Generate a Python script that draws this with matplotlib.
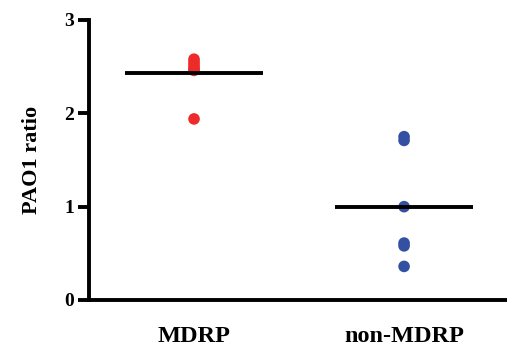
import matplotlib
matplotlib.use("Agg")
import matplotlib.pyplot as plt
import numpy as np

categories = ["MDRP", "non-MDRP"]
mdrp_values = [2.58, 2.55, 2.52, 2.49, 2.47, 2.46, 1.94]
non_mdrp_values = [1.75, 1.71, 1.0, 0.61, 0.58, 0.36]
y_ticks = [0, 1, 2, 3]
colors = ["#ee2b2b", "#3350a3"]

W, H = 507, 347
fig = plt.figure(figsize=(W / 100, H / 100), dpi=100)
ax = fig.add_axes([89 / W, (H - 300) / H, (W - 89) / W, 280 / H])

serif = ["Liberation Serif", "DejaVu Serif"]
series = [mdrp_values, non_mdrp_values]
for i, (vals, c) in enumerate(zip(series, colors)):
    x = i + 1
    ax.scatter([x] * len(vals), vals, s=70, color=c, zorder=3, edgecolors="none")
    m = np.mean(vals)
    ax.plot([x - 0.33, x + 0.33], [m, m], color="black", lw=2.8, zorder=4,
            solid_capstyle="butt")

ax.set_xlim(0.5, 2.49)
ax.set_ylim(0, 3)
ax.set_yticks(y_ticks)
ax.set_yticklabels([str(t) for t in y_ticks], fontfamily=serif,
                   fontweight="bold", fontsize=14)
ax.set_xticks([1, 2])
ax.set_xticklabels(categories, fontfamily=serif, fontweight="bold", fontsize=17.5)
ax.tick_params(axis="x", length=0, pad=19)
ax.tick_params(axis="y", length=8, width=2.8, pad=3)
ax.set_ylabel("PAO1 ratio", fontfamily=serif, fontweight="bold", fontsize=16,
              labelpad=16)
for s in ["top", "right"]:
    ax.spines[s].set_visible(False)
for s in ["left", "bottom"]:
    ax.spines[s].set_linewidth(2.8)

fig.savefig("out.png", dpi=100)
